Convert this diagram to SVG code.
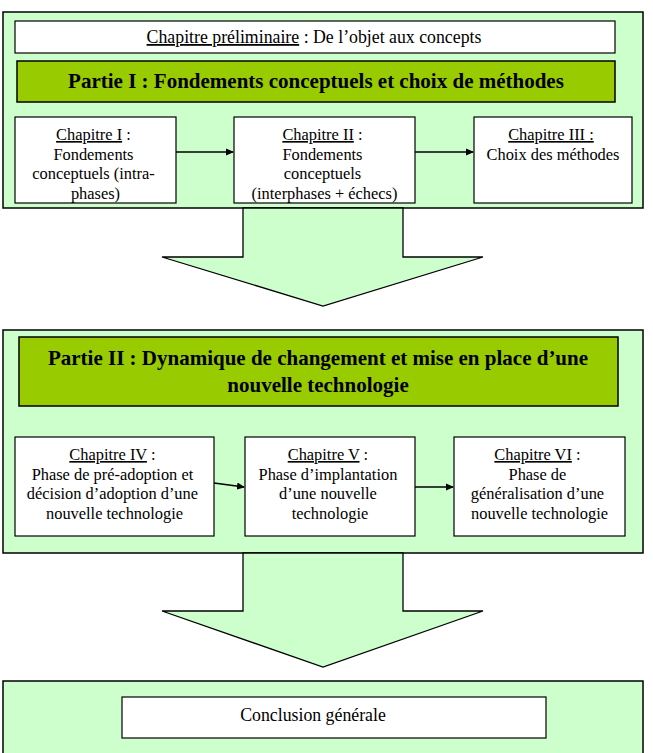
<svg xmlns="http://www.w3.org/2000/svg" width="653" height="753" viewBox="0 0 653 753">
<style>
.panel{fill:#CCFFCC;stroke:#000;stroke-width:1.5}
.box{fill:#fff;stroke:#000;stroke-width:1.2}
.part{fill:#99CC00;stroke:#000;stroke-width:1.5}
.big{fill:#CCFFCC;stroke:#000;stroke-width:1.3}
text{font-family:'Liberation Serif','Times New Roman',serif;fill:#000;text-anchor:middle}
.t{font-size:16.4px}
.l{font-size:17.8px}
.b{font-size:21px;font-weight:bold}
.u{text-decoration:underline}
.conn{stroke:#000;stroke-width:1.5;fill:none;marker-end:url(#ah)}
</style>
<defs>
<marker id="ah" markerWidth="8" markerHeight="8" refX="7" refY="4" orient="auto" markerUnits="userSpaceOnUse">
<path d="M0,0.5 L8,4 L0,7.5 Z" fill="#000"/>
</marker>
</defs>
<rect width="653" height="753" fill="#fff"/>

<g id="panel1">
<rect class="panel" x="3" y="12" width="640" height="196"/>
</g>
<g id="bigArrow1">
<polygon class="big" points="243,208 243,257 162,257 323,306 483,257 403,257 403,208"/>
</g>
<g id="panel2">
<rect class="panel" x="3" y="330" width="640" height="223"/>
</g>
<g id="bigArrow2">
<polygon class="big" points="243,553 243,611 162,611 323,667 483,611 403,611 403,553"/>
</g>
<g id="panel3">
<rect class="panel" x="3" y="681" width="640" height="80"/>
</g>

<g id="chapPrelim">
<rect class="box" x="15" y="21" width="600" height="32"/>
<text class="l" x="314" y="43"><tspan class="u">Chapitre préliminaire</tspan> : De l’objet aux concepts</text>
</g>
<g id="partie1">
<rect class="part" x="17" y="61" width="598" height="41"/>
<text class="b" x="316" y="88">Partie I : Fondements conceptuels et choix de méthodes</text>
</g>
<g id="chap1">
<rect class="box" x="15" y="117" width="161" height="86"/>
<text class="t" x="95.5" y="140">
<tspan x="95.5"><tspan class="u">Chapitre I</tspan> :</tspan>
<tspan x="95.5" dy="19.5">Fondements</tspan>
<tspan x="95.5" dy="19.5">conceptuels (intra-</tspan>
<tspan x="95.5" dy="19.5">phases)</tspan>
</text>
</g>
<g id="chap2">
<rect class="box" x="234" y="117" width="181" height="86"/>
<text class="t" x="324.5" y="140">
<tspan x="324.5"><tspan class="u">Chapitre II</tspan> :</tspan>
<tspan x="324.5" dy="19.5">Fondements</tspan>
<tspan x="324.5" dy="19.5">conceptuels</tspan>
<tspan x="324.5" dy="19.5">(interphases + échecs)</tspan>
</text>
</g>
<g id="chap3">
<rect class="box" x="474" y="117" width="158" height="86"/>
<text class="t" x="553" y="140">
<tspan x="553" class="u">Chapitre III :</tspan>
<tspan x="553" dy="19.5">Choix des méthodes</tspan>
</text>
</g>

<g id="partie2">
<rect class="part" x="19" y="337" width="599" height="69"/>
<text class="b" x="318" y="365">Partie II : Dynamique de changement et mise en place d’une</text>
<text class="b" x="318" y="392">nouvelle technologie</text>
</g>
<g id="chap4">
<rect class="box" x="15" y="437" width="199" height="99"/>
<text class="t" x="114.5" y="460">
<tspan x="114.5"><tspan class="u">Chapitre IV</tspan> :</tspan>
<tspan x="114.5" dy="19.5">Phase de pré-adoption et</tspan>
<tspan x="114.5" dy="19.5">décision d’adoption d’une</tspan>
<tspan x="114.5" dy="19.5">nouvelle technologie</tspan>
</text>
</g>
<g id="chap5">
<rect class="box" x="245" y="437" width="170" height="99"/>
<text class="t" x="330" y="460">
<tspan x="330"><tspan class="u">Chapitre V</tspan> :</tspan>
<tspan x="330" dy="19.5">Phase d’implantation</tspan>
<tspan x="330" dy="19.5">d’une nouvelle</tspan>
<tspan x="330" dy="19.5">technologie</tspan>
</text>
</g>
<g id="chap6">
<rect class="box" x="454" y="437" width="171" height="99"/>
<text class="t" x="539.5" y="460">
<tspan x="539.5"><tspan class="u">Chapitre VI</tspan> :</tspan>
<tspan x="539.5" dy="19.5">Phase de</tspan>
<tspan x="539.5" dy="19.5">généralisation d’une</tspan>
<tspan x="539.5" dy="19.5">nouvelle technologie</tspan>
</text>
</g>

<g id="conclusion">
<rect class="box" x="122" y="697" width="424" height="41"/>
<text class="l" x="313" y="721">Conclusion générale</text>
</g>

<g id="connectors">
<line class="conn" x1="176" y1="152" x2="233" y2="152"/>
<line class="conn" x1="415" y1="152" x2="473" y2="152"/>
<line class="conn" x1="214" y1="483" x2="244" y2="487"/>
<line class="conn" x1="415" y1="487" x2="453" y2="487"/>
</g>
</svg>
